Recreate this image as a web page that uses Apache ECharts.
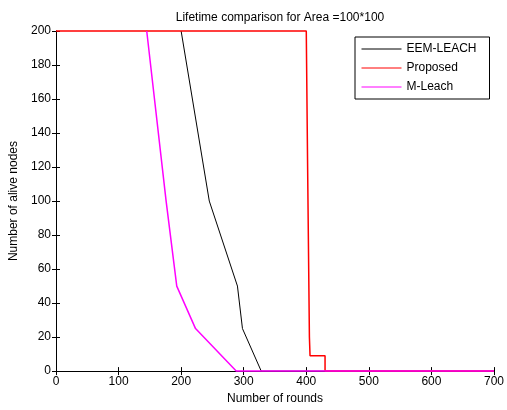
<!DOCTYPE html>
<html>
<head>
<meta charset="utf-8">
<script src="https://cdn.jsdelivr.net/npm/echarts@6/dist/echarts.min.js"></script>
<style>
  html, body { margin: 0; padding: 0; background: #fff; }
  #main { width: 507px; height: 410px; }
</style>
</head>
<body>
<div id="main"></div>
<script>
"use strict";

// values
var eemRounds = [200, 245, 290, 298, 328, 700];
var eemAlive = [200, 100, 50, 25, 0, 0];

var proposedRounds = [0, 400, 402, 405, 406, 430, 430, 700];
var proposedAlive = [200, 200, 125, 20, 9, 9, 0, 0];

var mleachRounds = [145, 176, 193, 223, 288, 700];
var mleachAlive = [200, 100, 50, 25, 0, 0];

var xTicks = [0, 100, 200, 300, 400, 500, 600, 700];
var yTicks = [0, 20, 40, 60, 80, 100, 120, 140, 160, 180, 200];

function pairs(xs, ys) {
  return xs.map(function (x, i) {
    return [x, ys[i]];
  });
}

var chartDom = document.getElementById("main");
var myChart = echarts.init(chartDom, null, { renderer: "canvas" });

var font = "Liberation Sans, Arial, sans-serif";
var tickCfg = { show: true, inside: true, length: 4, lineStyle: { color: "#000", width: 1 } };
var lineCfg = { show: true, lineStyle: { color: "#000", width: 1 } };

var option = {
  animation: false,
  textStyle: { fontFamily: font },
  title: {
    text: "Lifetime comparison for Area =100*100",
    left: 275,
    textAlign: "center",
    top: 7,
    textStyle: { fontFamily: font, fontSize: 12, fontWeight: "normal", color: "#000" },
  },
  grid: { left: 56, right: 13, top: 31, bottom: 33 },
  legend: {
    orient: "vertical",
    left: 355,
    top: 37,
    padding: [6, 13, 6, 6],
    itemGap: 7,
    itemWidth: 40,
    itemHeight: 12,
    backgroundColor: "#fff",
    borderColor: "#000",
    borderWidth: 1,
    borderRadius: 0,
    itemStyle: { opacity: 0 },
    lineStyle: { width: 1 },
    textStyle: { fontFamily: font, fontSize: 12, color: "#000" },
    data: ["EEM-LEACH", "Proposed", "M-Leach"],
  },
  xAxis: [
    {
      type: "value",
      min: xTicks[0],
      max: xTicks[xTicks.length - 1],
      interval: 100,
      name: "Number of rounds",
      nameLocation: "middle",
      nameGap: 20,
      nameTextStyle: { fontFamily: font, fontSize: 12, color: "#000" },
      axisLine: lineCfg,
      axisTick: tickCfg,
      splitLine: { show: false },
      axisLabel: { margin: 5, fontFamily: font, fontSize: 12, color: "#000" },
    },
    {
      type: "value",
      position: "top",
      min: xTicks[0],
      max: xTicks[xTicks.length - 1],
      interval: 100,
      axisLine: lineCfg,
      axisTick: tickCfg,
      splitLine: { show: false },
      axisLabel: { show: false },
    },
  ],
  yAxis: [
    {
      type: "value",
      min: yTicks[0],
      max: yTicks[yTicks.length - 1],
      interval: 20,
      name: "Number of alive nodes",
      nameLocation: "middle",
      nameGap: 34,
      nameTextStyle: { fontFamily: font, fontSize: 12, color: "#000" },
      axisLine: lineCfg,
      axisTick: tickCfg,
      splitLine: { show: false },
      axisLabel: { margin: 5, fontFamily: font, fontSize: 12, color: "#000" },
    },
    {
      type: "value",
      position: "right",
      min: yTicks[0],
      max: yTicks[yTicks.length - 1],
      interval: 20,
      axisLine: lineCfg,
      axisTick: tickCfg,
      splitLine: { show: false },
      axisLabel: { show: false },
    },
  ],
  series: [
    {
      name: "EEM-LEACH",
      type: "line",
      data: pairs(eemRounds, eemAlive),
      symbol: "none",
      clip: false,
      lineStyle: { color: "#000", width: 1 },
      itemStyle: { color: "#000" },
    },
    {
      name: "Proposed",
      type: "line",
      data: pairs(proposedRounds, proposedAlive),
      symbol: "none",
      clip: false,
      lineStyle: { color: "#ff0000", width: 1.5 },
      itemStyle: { color: "#ff0000" },
    },
    {
      name: "M-Leach",
      type: "line",
      data: pairs(mleachRounds, mleachAlive),
      symbol: "none",
      clip: false,
      lineStyle: { color: "#ff00ff", width: 1.5 },
      itemStyle: { color: "#ff00ff" },
    },
  ],
};

option && myChart.setOption(option);
</script>
</body>
</html>
